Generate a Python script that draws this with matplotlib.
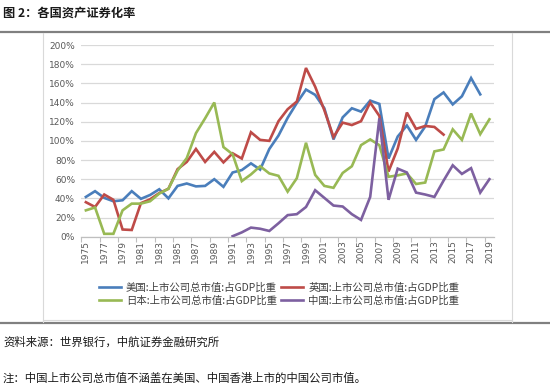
import matplotlib
matplotlib.use("Agg")
import matplotlib.pyplot as plt
from matplotlib.lines import Line2D
import numpy as np

plt.rcParams['font.family'] = ['Noto Sans CJK SC', 'DejaVu Sans']

years = list(range(1975, 2020))
nan = np.nan

us = [41.5, 47.5, 40.5, 37, 38, 47.5, 39.5, 43.5, 49.5, 40,
      53, 55.5, 52.5, 53, 60, 52, 67, 69.5, 76.5, 70,
      91.5, 105.5, 124, 139.5, 153.5, 148, 134, 101.5, 124.5, 134,
      130.5, 142, 138.5, 81.5, 104.5, 116, 101, 115, 143.5, 150.5,
      138, 146.5, 165.5, 148.5, nan]
uk = [36, 31, 44, 38.5, 7.5, 7, 35, 39, 45.5, 50,
      70.5, 78, 91.5, 78, 88.5, 77.5, 87, 81.5, 109, 101,
      100, 120.5, 133, 141, 176, 156.5, 132, 104, 119, 116.5,
      120.5, 140, 126, 68, 92, 129.5, 112.5, 115.5, 114.5, 106.5,
      nan, nan, nan, nan, nan]
japan = [27.5, 30.5, 3, 3, 27.5, 34.5, 34.5, 37, 45, 50,
         69, 82, 108, 123.5, 140, 93.5, 86, 58, 65, 73.5,
         66, 63.5, 47, 61, 98, 64.5, 53, 51, 66.5, 73.5,
         95.5, 101.5, 95.5, 62.5, 64, 66, 55, 56.5, 89, 91,
         112, 101, 128.5, 107, 122.5]
china = [nan] * 16 + [0.5, 4.5, 9.5, 8.3, 6, 14, 22.5, 23.5, 31, 48.5,
                      40.5, 32.5, 31.5, 23.5, 17.5, 41.5, 123.5, 38.5, 71, 67,
                      46, 44, 41.5, 58.5, 74.5, 65.5, 71.5, 46, 60]

series_names = ["美国:上市公司总市值:占GDP比重", "英国:上市公司总市值:占GDP比重",
                "日本:上市公司总市值:占GDP比重", "中国:上市公司总市值:占GDP比重"]
colors = ["#4A7EBB", "#BE4B48", "#98B954", "#7D60A0"]
yticks = [0, 20, 40, 60, 80, 100, 120, 140, 160, 180, 200]

W, H = 550, 392
fig = plt.figure(figsize=(W / 100, H / 100), dpi=100)
fig.patch.set_facecolor("white")

ax = fig.add_axes([81.3 / W, 1 - 236.7 / H, 412.7 / W, 191.7 / H])
x = np.arange(len(years))
lines = []
for vals, c, name in zip([us, uk, japan, china], colors, series_names):
    ln, = ax.plot(x, np.array(vals, dtype=float) / 100, color=c, lw=1.9,
                  solid_joinstyle='miter', label=name, zorder=3)
    lines.append(ln)

ax.set_xlim(-0.5, len(years) - 0.5)
ax.set_ylim(0, 2.0)
ax.set_yticks([v / 100 for v in yticks])
ax.set_yticklabels([f"{v}%" for v in yticks], fontsize=6.5, color="#595959",
                   family="DejaVu Sans")
ax.tick_params(axis='y', length=0, pad=4.5)
ax.grid(axis='y', color="#D9D9D9", lw=0.9, zorder=0)
ax.set_xticks(x[::2])
ax.set_xticklabels([str(y) for y in years[::2]], rotation=90, fontsize=6.5,
                   color="#595959", family="DejaVu Sans")
ax.tick_params(axis='x', which='major', length=0, pad=2.5)
ax.set_xticks(np.arange(-0.5, len(years), 2), minor=True)
ax.tick_params(axis='x', which='minor', length=3.5, color="#BFBFBF", width=0.8)
for s in ['left', 'right', 'top']:
    ax.spines[s].set_visible(False)
ax.spines['bottom'].set_color("#BFBFBF")
ax.spines['bottom'].set_linewidth(0.9)

handles = [lines[0], lines[2], lines[1], lines[3]]
leg = fig.legend(handles=handles, labels=[h.get_label() for h in handles],
                 loc='center', bbox_to_anchor=(279 / W, 1 - 294 / H), ncol=2,
                 frameon=False, fontsize=7.5, handlelength=2.1, handletextpad=0.5,
                 columnspacing=0.4, labelspacing=0.3, borderaxespad=0, borderpad=0)
for t in leg.get_texts():
    t.set_color("#404040")

# frame lines
fig.add_artist(Line2D([0, 1], [1 - 32 / H, 1 - 32 / H], color="#808080", lw=1.6))
fig.add_artist(Line2D([0, 1], [1 - 323 / H, 1 - 323 / H], color="#808080", lw=1.6))
fig.add_artist(Line2D([43 / W, 43 / W], [1 - 33 / H, 1 - 322 / H], color="#D9D9D9", lw=0.8))
fig.add_artist(Line2D([512 / W, 512 / W], [1 - 33 / H, 1 - 322 / H], color="#D9D9D9", lw=0.8))
fig.add_artist(Line2D([43 / W, 512 / W], [1 - 320 / H, 1 - 320 / H], color="#D9D9D9", lw=0.8))

fig.text(3 / W, 1 - 13 / H, "图 2：各国资产证券化率", fontsize=8.8, fontweight='bold',
         color="#1A1A1A", va='center', ha='left')
fig.text(3 / W, 1 - 342 / H, "资料来源：世界银行，中航证券金融研究所", fontsize=8.2,
         color="#1A1A1A", va='center', ha='left', style='italic')
fig.text(3 / W, 1 - 378 / H, "注：中国上市公司总市值不涵盖在美国、中国香港上市的中国公司市值。",
         fontsize=8.2, color="#1A1A1A", va='center', ha='left', style='italic')

fig.savefig("out.png", dpi=100, facecolor="white")
